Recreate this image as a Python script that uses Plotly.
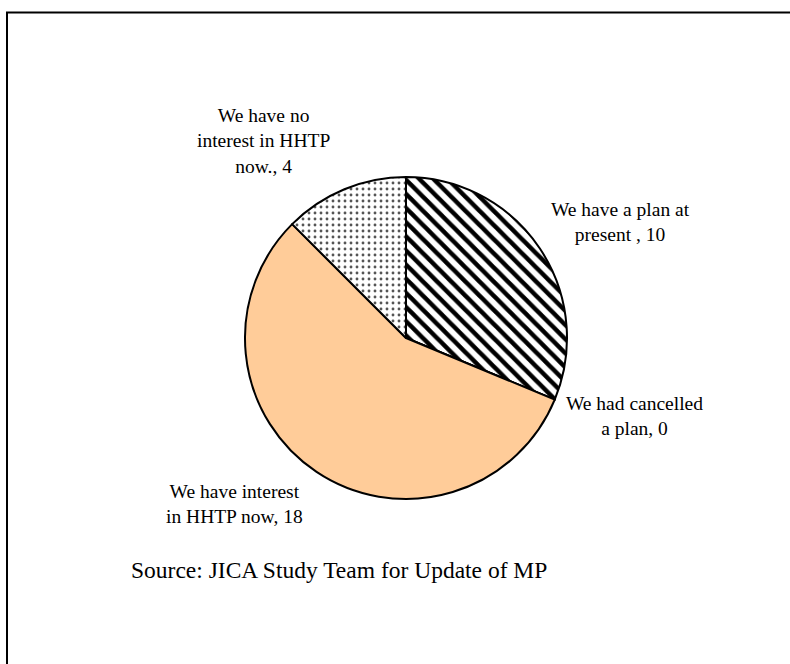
import plotly.graph_objects as go

categories = [
    "We have a plan at<br>present ",
    "We had cancelled<br>a plan",
    "We have interest<br>in HHTP now",
    "We have no<br>interest in HHTP<br>now.",
]
values = [10, 0, 18, 4]
source_text = "Source: JICA Study Team for Update of MP"

W, H = 790, 664
cx, cy, r = 406, 338, 161

fig = go.Figure(go.Pie(
    labels=categories,
    values=values,
    sort=False,
    direction="clockwise",
    rotation=0,
    textinfo="none",
    hoverinfo="label+value",
    showlegend=False,
    domain=dict(x=[(cx - r) / W, (cx + r) / W], y=[(H - cy - r) / H, (H - cy + r) / H]),
    marker=dict(
        colors=["white", "white", "#FFCC99", "white"],
        line=dict(color="black", width=2),
        pattern=dict(
            shape=["\\", "\\", "", "."],
            fgcolor=["black", "black", "black", "#555555"],
            bgcolor=["white", "white", "#FFCC99", "white"],
            size=[10, 10, 8, 6],
            solidity=[0.45, 0.45, 0.3, 0.18],
            fillmode="replace",
            fgopacity=1,
        ),
    ),
))

label_pos = [(620, 222), (634, 416), (235, 504), (263, 141)]
annotations = []
for cat, val, (x, y) in zip(categories, values, label_pos):
    annotations.append(dict(
        x=x / W, y=1 - y / H, xref="paper", yref="paper",
        text=f"{cat}, {val}", showarrow=False, align="center",
        xanchor="center", yanchor="middle",
        font=dict(family="Liberation Serif, Times New Roman, serif", size=19.5, color="black"),
    ))
annotations.append(dict(
    x=129 / W, y=1 - 570 / H, xref="paper", yref="paper",
    text=source_text, showarrow=False, xanchor="left", yanchor="middle",
    font=dict(family="Liberation Serif, Times New Roman, serif", size=23.5, color="black"),
))

fig.update_layout(
    width=W, height=H,
    margin=dict(l=0, r=0, t=0, b=0),
    paper_bgcolor="white", plot_bgcolor="white",
    annotations=annotations,
    shapes=[dict(
        type="rect", xref="paper", yref="paper",
        x0=7 / W, x1=1.02, y0=-0.02, y1=1 - 12.5 / H,
        line=dict(color="black", width=2),
    )],
)

fig.write_html("out.html")
